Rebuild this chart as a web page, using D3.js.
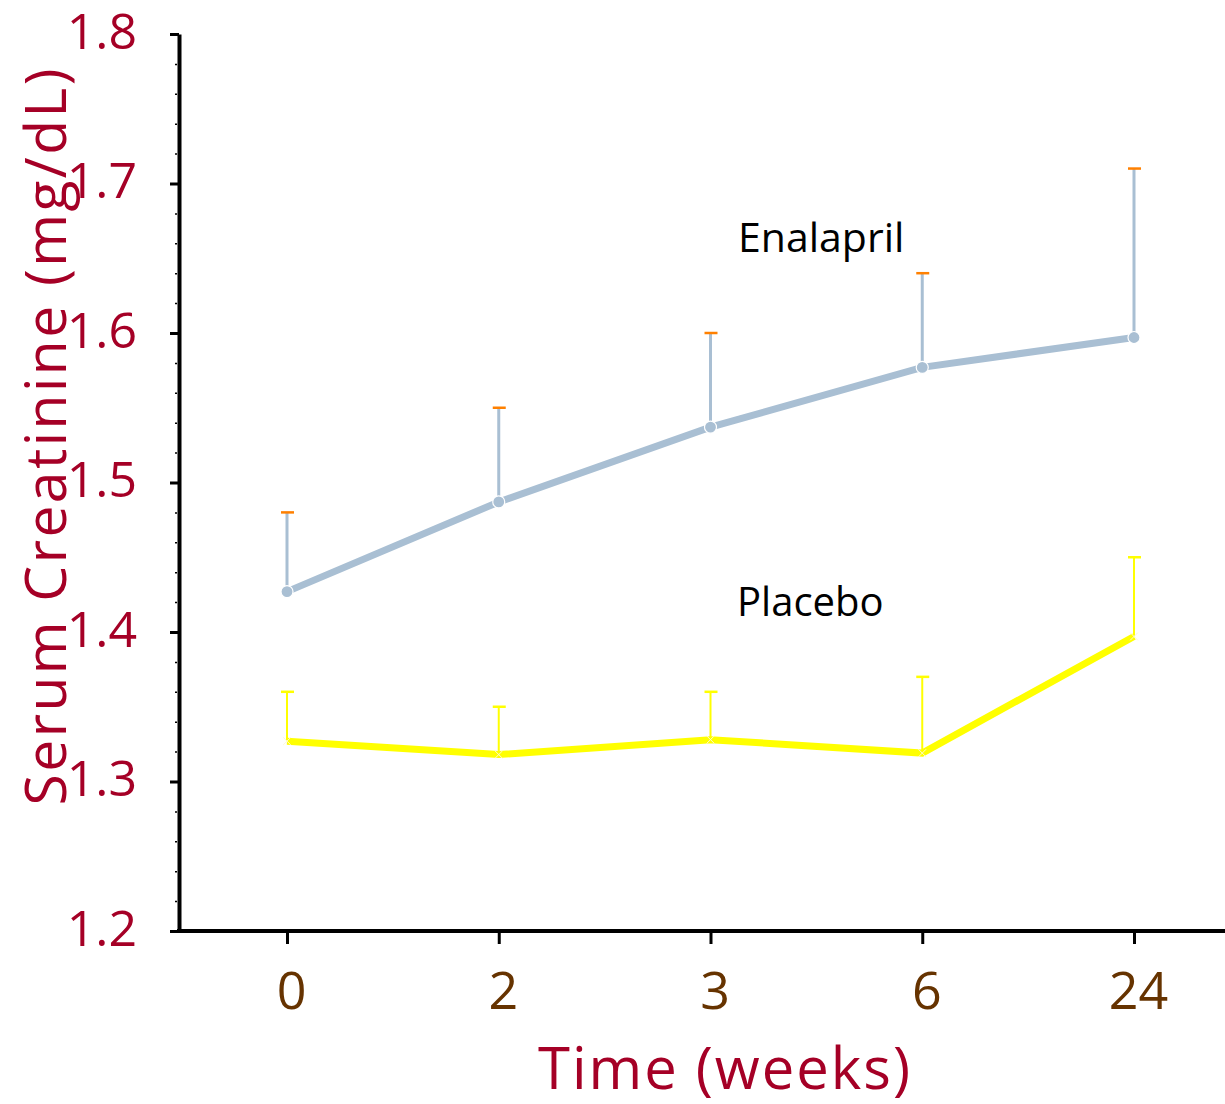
<!DOCTYPE html>
<html>
<head>
<meta charset="UTF-8" />
<script src="https://d3js.org/d3.v7.min.js"></script>
<style>
  body { margin: 0; background: #fff; }
  svg { display: block; font-family: "Comic Sans MS", "Open Sans", sans-serif; }
</style>
</head>
<body>
<div id="chart"></div>
<script>
  // data
  const weeks = ["0", "2", "3", "6", "24"];
  const enalaprilMean = [1.427, 1.487, 1.537, 1.577, 1.597];
  const enalaprilUpper = [1.48, 1.55, 1.60, 1.64, 1.71];
  const placeboMean = [1.327, 1.318, 1.328, 1.319, 1.397];
  const placeboUpper = [1.36, 1.35, 1.36, 1.37, 1.45];
  const yTicks = [1.2, 1.3, 1.4, 1.5, 1.6, 1.7, 1.8];

  const width = 1225, height = 1104;
  const axisLeftX = 179, axisBottomY = 931, axisTopY = 34;

  const svg = d3.select("#chart").append("svg")
    .attr("width", width)
    .attr("height", height);

  const x = d3.scalePoint().domain(weeks).range([287, 1134]);
  const y = d3.scaleLinear().domain([1.2, 1.8]).range([axisBottomY, axisTopY]);

  // minor ticks on the y axis
  const minor = d3.range(1.2, 1.8001, 0.02);
  svg.append("g")
    .attr("transform", `translate(${axisLeftX - 2},0)`)
    .call(d3.axisLeft(y).tickValues(minor).tickSize(2).tickFormat(""))
    .call(g => g.select(".domain").remove())
    .call(g => g.selectAll("line").attr("stroke", "#000").attr("stroke-width", 1.5));

  // y axis
  const yAxis = svg.append("g")
    .attr("transform", `translate(${axisLeftX},0)`)
    .call(d3.axisLeft(y).tickValues(yTicks).tickSize(9).tickSizeOuter(0)
      .tickPadding(33).tickFormat(d3.format(".1f")));
  yAxis.select(".domain").attr("stroke", "#000").attr("stroke-width", 4);
  yAxis.selectAll("line").attr("stroke", "#000").attr("stroke-width", 3);
  yAxis.selectAll("text")
    .attr("fill", "#a50026")
    .attr("font-size", 50)
    .attr("font-family", "\"Comic Sans MS\", \"Open Sans\", sans-serif")
    .attr("dy", "0.28em");

  // x axis
  svg.append("line")
    .attr("x1", axisLeftX - 2).attr("x2", width)
    .attr("y1", axisBottomY).attr("y2", axisBottomY)
    .attr("stroke", "#000").attr("stroke-width", 4);
  const xAxis = svg.append("g")
    .attr("transform", `translate(0,${axisBottomY})`)
    .call(d3.axisBottom(x).tickSize(13).tickPadding(28));
  xAxis.select(".domain").remove();
  xAxis.selectAll("line").attr("stroke", "#000").attr("stroke-width", 3);
  xAxis.selectAll("text")
    .attr("fill", "#663300")
    .attr("font-size", 52)
    .attr("font-family", "\"Comic Sans MS\", \"Open Sans\", sans-serif")
    .attr("dx", 4);

  // axis titles
  svg.append("text")
    .attr("x", 724).attr("y", 1089)
    .attr("text-anchor", "middle")
    .attr("fill", "#a50026")
    .attr("font-size", 58)
    .attr("textLength", 372)
    .attr("lengthAdjust", "spacing")
    .text("Time (weeks)");

  svg.append("text")
    .attr("transform", "translate(66,437) rotate(-90)")
    .attr("text-anchor", "middle")
    .attr("fill", "#a50026")
    .attr("font-size", 57)
    .attr("textLength", 737)
    .attr("lengthAdjust", "spacing")
    .text("Serum Creatinine (mg/dL)");

  function drawSeries(mean, upper, color, capColor, lineW, barW) {
    const pts = weeks.map((w, i) => ({ w, m: mean[i], u: upper[i] }));
    const g = svg.append("g");
    g.selectAll(".bar").data(pts).enter().append("line")
      .attr("x1", d => x(d.w)).attr("x2", d => x(d.w))
      .attr("y1", d => y(d.m)).attr("y2", d => y(d.u))
      .attr("stroke", color).attr("stroke-width", barW);
    g.selectAll(".cap").data(pts).enter().append("line")
      .attr("x1", d => x(d.w) - 6).attr("x2", d => x(d.w) + 7)
      .attr("y1", d => y(d.u)).attr("y2", d => y(d.u))
      .attr("stroke", capColor).attr("stroke-width", 2.5);
    g.append("path")
      .datum(pts)
      .attr("fill", "none")
      .attr("stroke", color)
      .attr("stroke-width", lineW)
      .attr("d", d3.line().x(d => x(d.w)).y(d => y(d.m)));
    return { g, pts };
  }

  const en = drawSeries(enalaprilMean, enalaprilUpper, "#a9bfd3", "#ff8000", 7, 3);
  en.g.selectAll(".mk").data(en.pts).enter().append("circle")
    .attr("cx", d => x(d.w)).attr("cy", d => y(d.m))
    .attr("r", 6)
    .attr("fill", "#a9bfd3")
    .attr("stroke", "#fff").attr("stroke-width", 1.2);

  const pl = drawSeries(placeboMean, placeboUpper, "#ffff00", "#ffff00", 7, 2);
  pl.g.selectAll(".mk").data(pl.pts).enter().append("path")
    .attr("transform", d => `translate(${x(d.w)},${y(d.m)})`)
    .attr("d", d3.symbol(d3.symbolX, 40))
    .attr("fill", "none")
    .attr("stroke", "#fffbd0").attr("stroke-width", 1);

  // series labels
  svg.append("text")
    .attr("x", 738).attr("y", 252)
    .attr("fill", "#000")
    .attr("font-size", 41)
    .text("Enalapril");
  svg.append("text")
    .attr("x", 737).attr("y", 616)
    .attr("fill", "#000")
    .attr("font-size", 40)
    .text("Placebo");
</script>
</body>
</html>
